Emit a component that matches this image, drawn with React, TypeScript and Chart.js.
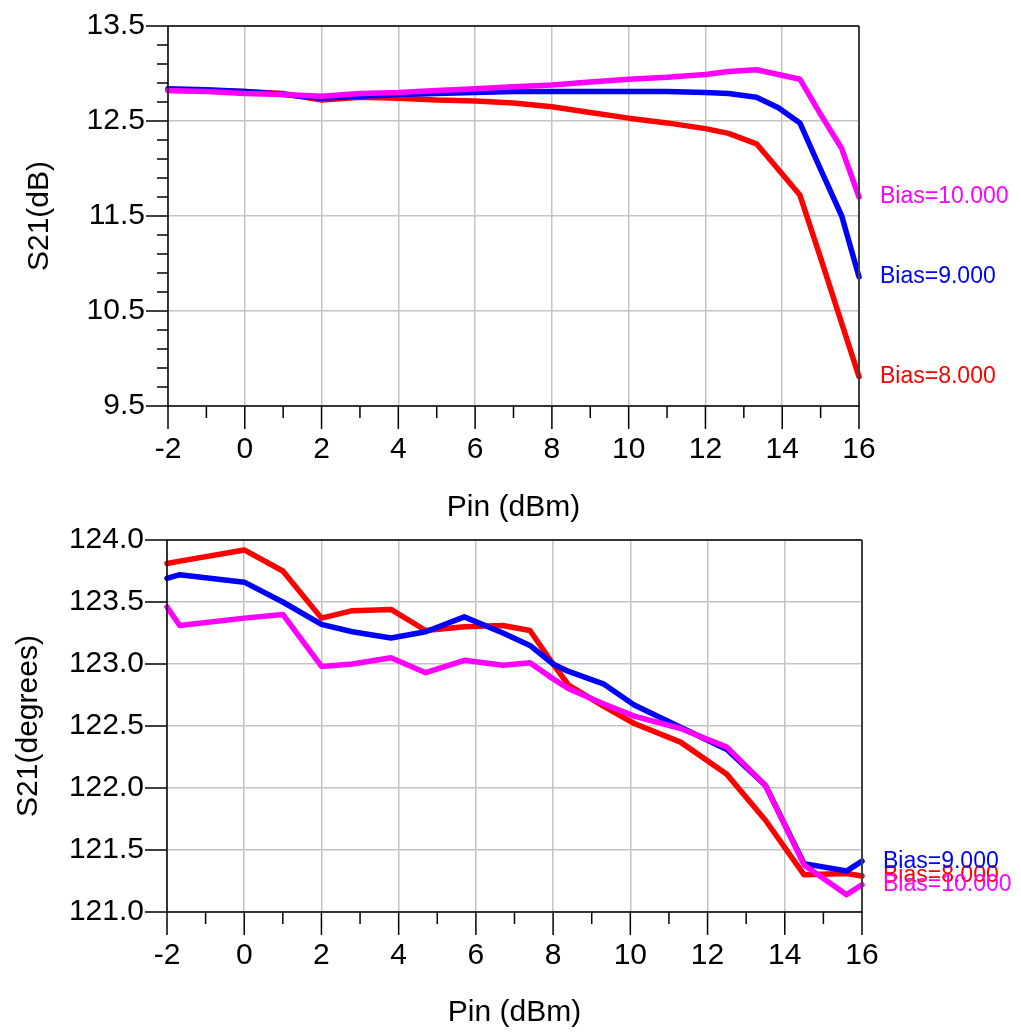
import React, { useEffect, useRef } from "react";
import { Chart, registerables } from "chart.js";

Chart.register(...registerables);

const FONT = "'Liberation Sans', Arial, Helvetica, sans-serif";

// ---------- Top chart: S21 (dB) vs Pin ----------
const pinTop = [-2, -1, 0, 1, 2, 3, 4, 5, 6, 7, 8, 9, 10, 11, 12, 12.6, 13.33, 13.9, 14.46, 15, 15.55, 16];
const s21dBBias8 = [12.82, 12.82, 12.81, 12.79, 12.72, 12.75, 12.74, 12.72, 12.71, 12.69, 12.65, 12.59, 12.53, 12.48, 12.42, 12.37, 12.26, 11.99, 11.72, 11.06, 10.37, 9.81];
const s21dBBias9 = [12.84, 12.83, 12.81, 12.78, 12.74, 12.76, 12.78, 12.79, 12.8, 12.81, 12.81, 12.81, 12.81, 12.81, 12.8, 12.79, 12.75, 12.64, 12.48, 11.99, 11.5, 10.86];
const s21dBBias10 = [12.82, 12.81, 12.79, 12.78, 12.76, 12.79, 12.8, 12.82, 12.84, 12.86, 12.88, 12.91, 12.94, 12.96, 12.99, 13.02, 13.04, 12.99, 12.94, 12.57, 12.21, 11.7];

// ---------- Bottom chart: S21 (degrees) vs Pin ----------
const pinBottom = [-2, -1.67, 0, 1, 2, 2.8, 3.8, 4.7, 5.7, 6.7, 7.4, 8.0, 8.4, 9.3, 10.1, 11.3, 12.5, 13.5, 14.5, 15.6, 16];
const s21DegBias8 = [123.81, 123.83, 123.92, 123.75, 123.37, 123.43, 123.44, 123.27, 123.3, 123.31, 123.27, 123.0, 122.83, 122.66, 122.52, 122.37, 122.11, 121.74, 121.3, 121.31, 121.29];
const s21DegBias9 = [123.69, 123.72, 123.66, 123.5, 123.32, 123.26, 123.21, 123.26, 123.38, 123.25, 123.15, 123.0, 122.94, 122.84, 122.67, 122.49, 122.31, 122.02, 121.39, 121.33, 121.41];
const s21DegBias10 = [123.46, 123.31, 123.37, 123.4, 122.98, 123.0, 123.05, 122.93, 123.03, 122.99, 123.01, 122.88, 122.8, 122.68, 122.58, 122.48, 122.33, 122.02, 121.38, 121.14, 121.22];

// ---------- Labels / axes ----------
const biasLabels = ["Bias=8.000", "Bias=9.000", "Bias=10.000"];
const biasColors = ["#ff0000", "#0000ff", "#ff00ff"];
const xAxisTitle = "Pin (dBm)";
const topYTitle = "S21(dB)";
const bottomYTitle = "S21(degrees)";
const xRange = [-2, 16];
const topYRange = [9.5, 13.5];
const bottomYRange = [121.0, 124.0];

function toXY(xs: number[], ys: number[]) {
  return xs.map((x, i) => ({ x, y: ys[i] }));
}

type FrameCfg = { yMinorStep: number | null };

function framePlugin(cfg: FrameCfg) {
  return {
    id: "frameAndLabels",
    afterDatasetsDraw(chart: any) {
      const { ctx, chartArea: a, scales } = chart;
      const xs = scales.x;
      const ys = scales.y;
      const line = (x1: number, y1: number, x2: number, y2: number) => {
        ctx.beginPath();
        ctx.moveTo(x1, y1);
        ctx.lineTo(x2, y2);
        ctx.stroke();
      };
      ctx.save();
      // top border
      ctx.strokeStyle = "#000";
      ctx.lineWidth = 1.5;
      line(a.left, a.top, a.right, a.top);
      // right border
      ctx.strokeStyle = "#404040";
      ctx.lineWidth = 2;
      line(a.right, a.top, a.right, a.bottom + 1);
      // left + bottom axes
      ctx.strokeStyle = "#000";
      ctx.lineWidth = 1.5;
      line(a.left, a.top, a.left, a.bottom);
      line(a.left, a.bottom, a.right, a.bottom);
      // x ticks (major every 2, minor every 1)
      ctx.lineWidth = 1.5;
      for (let v = xs.min; v <= xs.max + 1e-9; v += 1) {
        const px = xs.getPixelForValue(v);
        const major = Math.round(v) % 2 === 0;
        line(px, a.bottom, px, a.bottom + (major ? 23 : 12));
      }
      // y ticks
      const majors: number[] = ys.ticks.map((t: any) => t.value);
      for (const v of majors) {
        const py = ys.getPixelForValue(v);
        line(a.left - 22, py, a.left, py);
      }
      if (cfg.yMinorStep) {
        const n = Math.round((ys.max - ys.min) / cfg.yMinorStep);
        for (let i = 0; i <= n; i++) {
          const v = ys.min + i * cfg.yMinorStep;
          if (majors.some((m) => Math.abs(m - v) < 1e-6)) continue;
          const py = ys.getPixelForValue(v);
          line(a.left - 11, py, a.left, py);
        }
      }
      // end-of-trace labels
      ctx.font = `23px ${FONT}`;
      ctx.textAlign = "left";
      ctx.textBaseline = "middle";
      const order = [2, 1, 0]; // dataset indices: red, blue, magenta
      for (const di of order) {
        const ds = chart.data.datasets[di];
        const last = ds.data[ds.data.length - 1];
        const py = ys.getPixelForValue(last.y);
        ctx.fillStyle = ds.borderColor;
        ctx.fillText(ds.label, a.right + 21, py);
      }
      ctx.restore();
    },
  };
}

function makeConfig(opts: {
  xs: number[];
  series: number[][];
  yRange: number[];
  yStep: number;
  yTitle: string;
  yTitlePad: number;
  padding: { top: number; right: number; bottom: number; left: number };
  xScaleHeight: number;
  yScaleWidth: number;
  yMinorStep: number | null;
}) {
  const tickFont = { family: FONT, size: 30 };
  // draw order: dataset 0 is drawn last (on top) → magenta, blue, red
  const idx = [2, 1, 0];
  const datasets = idx.map((i) => ({
    label: biasLabels[i],
    data: toXY(opts.xs, opts.series[i]),
    borderColor: biasColors[i],
    backgroundColor: biasColors[i],
    borderWidth: 5.5,
    pointRadius: 0,
    tension: 0,
    fill: false,
    clip: false as any,
    borderCapStyle: "round" as any,
    borderJoinStyle: "round" as any,
  }));
  return {
    type: "line" as const,
    data: { datasets },
    options: {
      responsive: false,
      animation: false as const,
      events: [],
      layout: { padding: opts.padding },
      plugins: { legend: { display: false }, tooltip: { enabled: false } },
      scales: {
        x: {
          type: "linear" as const,
          min: xRange[0],
          max: xRange[1],
          ticks: {
            stepSize: 2,
            padding: 26,
            font: tickFont,
            color: "#000",
            maxRotation: 0,
            autoSkip: false,
            callback: (v: any) => String(v),
          },
          grid: { color: "#c4c4c4", lineWidth: 1.5, drawTicks: false },
          border: { display: false },
          title: {
            display: true,
            text: xAxisTitle,
            font: tickFont,
            color: "#000",
            padding: { top: 0, bottom: 4 },
          },
          afterFit: (s: any) => {
            s.height = opts.xScaleHeight;
            s.paddingLeft = 0;
            s.paddingRight = 0;
          },
        },
        y: {
          type: "linear" as const,
          min: opts.yRange[0],
          max: opts.yRange[1],
          ticks: {
            stepSize: opts.yStep,
            padding: 23,
            font: tickFont,
            color: "#000",
            autoSkip: false,
            callback: (v: any) => Number(v).toFixed(1),
          },
          grid: { color: "#c4c4c4", lineWidth: 1.5, drawTicks: false },
          border: { display: false },
          title: {
            display: true,
            text: opts.yTitle,
            font: tickFont,
            color: "#000",
            padding: { top: opts.yTitlePad, bottom: 0 },
          },
          afterFit: (s: any) => {
            s.width = opts.yScaleWidth;
            s.paddingTop = 0;
            s.paddingBottom = 0;
          },
        },
      },
    },
    plugins: [framePlugin({ yMinorStep: opts.yMinorStep })],
  };
}

export default function App() {
  const topRef = useRef<HTMLCanvasElement>(null);
  const botRef = useRef<HTMLCanvasElement>(null);

  useEffect(() => {
    const top = new Chart(
      topRef.current as HTMLCanvasElement,
      makeConfig({
        xs: pinTop,
        series: [s21dBBias8, s21dBBias9, s21dBBias10],
        yRange: topYRange,
        yStep: 1,
        yTitle: topYTitle,
        yTitlePad: 22,
        padding: { top: 26, right: 162, bottom: 505, left: 0 },
        xScaleHeight: 124,
        yScaleWidth: 168,
        yMinorStep: 0.2,
      }) as any
    );
    const bot = new Chart(
      botRef.current as HTMLCanvasElement,
      makeConfig({
        xs: pinBottom,
        series: [s21DegBias8, s21DegBias9, s21DegBias10],
        yRange: bottomYRange,
        yStep: 0.5,
        yTitle: bottomYTitle,
        yTitlePad: 11,
        padding: { top: 540, right: 159, bottom: 0, left: 0 },
        xScaleHeight: 123,
        yScaleWidth: 167,
        yMinorStep: null,
      }) as any
    );
    return () => {
      top.destroy();
      bot.destroy();
    };
  }, []);

  const canvasStyle: React.CSSProperties = {
    position: "absolute",
    left: 0,
    top: 0,
    width: 1021,
    height: 1035,
  };

  return (
    <div style={{ position: "absolute", left: 0, top: 0, width: 1021, height: 1035, background: "#fff" }}>
      <canvas ref={topRef} width={1021} height={1035} style={canvasStyle} />
      <canvas ref={botRef} width={1021} height={1035} style={canvasStyle} />
    </div>
  );
}
